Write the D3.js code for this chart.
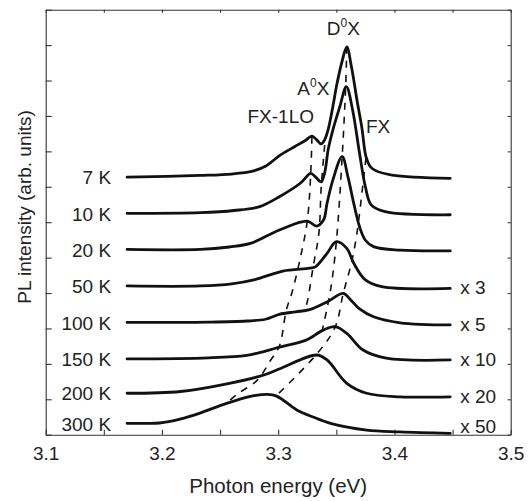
<!DOCTYPE html>
<html>
<head>
<meta charset="utf-8">
<script src="https://cdnjs.cloudflare.com/ajax/libs/d3/7.8.5/d3.min.js"></script>
<style>
  body { margin: 0; background: #fff; }
  svg { display: block; font-family: Arial, "Liberation Sans", sans-serif; }
</style>
</head>
<body>
<svg id="chart"></svg>
<script>
// temperatures (top to bottom) and the scale factors written at the right
let temps = ["7 K", "10 K", "20 K", "50 K", "100 K", "150 K", "200 K", "300 K"]
let factors = ["", "", "", "x 3", "x 5", "x 10", "x 20", "x 50"]

// spectra, [photon energy (eV), offset intensity (arb. units)]
let spec7 = [[3.170,7.27],[3.233,7.32],[3.260,7.36],[3.278,7.44],[3.289,7.58],[3.302,7.90],[3.314,8.13],[3.323,8.30],[3.329,8.43],
  [3.333,8.33],[3.337,8.21],[3.340,8.33],[3.343,8.62],[3.347,9.26],[3.3505,9.90],[3.355,10.55],[3.359,10.95],
  [3.363,10.39],[3.368,9.40],[3.372,8.66],[3.3755,7.85],[3.379,7.58],[3.383,7.47],[3.398,7.33],[3.448,7.24]]
let spec10 = [[3.170,6.25],[3.233,6.27],[3.262,6.33],[3.284,6.44],[3.301,6.72],[3.319,7.10],[3.328,7.38],[3.332,7.28],[3.337,7.14],
  [3.340,7.40],[3.343,8.05],[3.347,8.60],[3.353,9.26],[3.3586,9.83],[3.364,9.17],[3.370,7.94],[3.375,7.00],
  [3.380,6.49],[3.392,6.30],[3.448,6.21]]
let spec20 = [[3.170,5.23],[3.233,5.23],[3.258,5.30],[3.276,5.40],[3.301,5.78],[3.325,6.03],[3.333,5.89],[3.339,6.06],[3.342,6.53],
  [3.347,7.19],[3.355,7.85],[3.360,7.28],[3.365,6.53],[3.370,5.87],[3.375,5.49],[3.382,5.31],[3.405,5.21],[3.448,5.19]]
let spec50 = [[3.170,4.20],[3.233,4.20],[3.260,4.26],[3.280,4.38],[3.304,4.62],[3.327,4.70],[3.332,4.74],[3.342,5.12],[3.350,5.45],
  [3.359,5.26],[3.365,4.84],[3.375,4.37],[3.389,4.18],[3.448,4.13]]
let spec100 = [[3.170,3.17],[3.240,3.18],[3.273,3.21],[3.289,3.26],[3.301,3.40],[3.315,3.47],[3.327,3.53],[3.342,3.75],[3.356,3.99],[3.362,3.82],
  [3.370,3.55],[3.382,3.33],[3.405,3.16],[3.448,3.10]]
let spec150 = [[3.170,2.14],[3.240,2.17],[3.273,2.24],[3.289,2.36],[3.302,2.48],[3.324,2.67],[3.339,2.96],[3.349,3.05],[3.359,2.86],[3.373,2.39],
  [3.393,2.16],[3.448,2.11]]
let spec200 = [[3.170,1.17],[3.216,1.22],[3.258,1.45],[3.289,1.70],[3.302,1.87],[3.333,2.25],[3.342,2.11],[3.359,1.45],[3.376,1.17],
  [3.405,1.07],[3.448,1.07]]
let spec300 = [[3.170,0.32],[3.185,0.32],[3.198,0.33],[3.2155,0.44],[3.2327,0.61],[3.250,0.82],[3.2678,1.01],[3.2807,1.11],[3.2907,1.14],
  [3.2987,1.09],[3.316,0.70],[3.330,0.50],[3.345,0.32],[3.376,0.13],[3.405,0.08],[3.448,0.04]]
let spectra = [spec7, spec10, spec20, spec50, spec100, spec150, spec200, spec300]

// dashed guides following each emission line
let guideFX1LO = [[3.329,8.41],[3.328,7.39],[3.325,6.03],[3.319,4.99],[3.312,4.03],[3.307,3.52],[3.301,2.50],
  [3.293,2.08],[3.282,1.54],[3.265,1.15],[3.255,0.87]]
let guideA0X = [[3.340,8.18],[3.337,6.99],[3.335,5.69],[3.330,4.73],[3.325,3.75],[3.323,3.55]]
let guideD0X = [[3.359,10.95],[3.358,9.81],[3.355,7.84],[3.350,5.44],[3.345,4.08],[3.338,2.96]]
let guideFX = [[3.3755,7.81],[3.373,7.10],[3.3675,5.64],[3.363,4.85],[3.356,4.00],[3.349,3.04],[3.334,2.31],[3.299,1.12]]
let guides = [guideFX1LO, guideA0X, guideD0X, guideFX]

// peak names and where they are written (energy, intensity)
let peakNames = [["FX-1LO", "", ""], ["A", "0", "X"], ["D", "0", "X"], ["FX", "", ""]]
let peakSpots = [[3.3022, 8.81], [3.3302, 9.59], [3.356, 11.28], [3.3859, 8.52]]

let energyTicks = d3.range(0, 9).map(i => +(3.1 + i * 0.05).toFixed(2))
let intensityTicks = d3.range(0, 13)

let width = 531
let height = 501
let margin = { left: 45.7, top: 9.7, right: 20.3, bottom: 66.3 }
let innerW = width - margin.left - margin.right
let innerH = height - margin.top - margin.bottom
let ink = "#111"

let svg = d3.select("#chart").attr("width", width).attr("height", height)
let g = svg.append("g").attr("transform", `translate(${margin.left},${margin.top})`)

let x = d3.scaleLinear().domain([3.1, 3.5]).range([0, innerW])
let y = d3.scaleLinear().domain([0, 12]).range([innerH, 0])

let majorLabel = d => Math.abs(d * 10 - Math.round(d * 10)) < 1e-6 ? d3.format(".1f")(d) : ""

// axes, ticks pointing inward
let xBottom = g.append("g")
  .attr("transform", `translate(0,${innerH})`)
  .call(d3.axisBottom(x).tickValues(energyTicks).tickSizeInner(-5).tickSizeOuter(0).tickPadding(12).tickFormat(majorLabel))
xBottom.selectAll("text").attr("font-size", "19px").attr("fill", "#222")

g.append("g")
  .call(d3.axisTop(x).tickValues(energyTicks).tickSizeInner(-3).tickSizeOuter(0).tickFormat(""))

g.append("g")
  .call(d3.axisLeft(y).tickValues(intensityTicks).tickSizeInner(-6).tickSizeOuter(0).tickFormat(""))

g.append("g")
  .attr("transform", `translate(${innerW},0)`)
  .call(d3.axisRight(y).tickValues(intensityTicks).tickSizeInner(-3).tickSizeOuter(0).tickFormat(""))

g.selectAll(".domain, .tick line").attr("stroke", "#333").attr("stroke-width", 1.1)

// axis titles
svg.append("text")
  .attr("x", margin.left + innerW / 2)
  .attr("y", 493)
  .attr("text-anchor", "middle")
  .attr("font-size", "20.5px")
  .attr("fill", "#222")
  .text("Photon energy (eV)")

svg.append("text")
  .attr("transform", "translate(30.5,207) rotate(-90)")
  .attr("text-anchor", "middle")
  .attr("font-size", "19px")
  .attr("fill", "#222")
  .text("PL intensity (arb. units)")

// dashed guides
let guideLine = d3.line().x(d => x(d[0])).y(d => y(d[1])).curve(d3.curveCatmullRom)
g.selectAll(".guide")
  .data(guides)
  .enter()
  .append("path")
  .attr("class", "guide")
  .attr("d", guideLine)
  .attr("fill", "none")
  .attr("stroke", ink)
  .attr("stroke-width", 1.6)
  .attr("stroke-dasharray", "7,7")

// spectra
let specLine = d3.line().x(d => x(d[0])).y(d => y(d[1])).curve(d3.curveCatmullRom.alpha(0.5))
g.selectAll(".spectrum")
  .data(spectra)
  .enter()
  .append("path")
  .attr("class", "spectrum")
  .attr("d", specLine)
  .attr("fill", "none")
  .attr("stroke", ink)
  .attr("stroke-width", 2.8)
  .attr("stroke-linejoin", "round")
  .attr("stroke-linecap", "round")

// temperature labels at the left end of each curve
g.selectAll(".temp")
  .data(spectra)
  .enter()
  .append("text")
  .attr("class", "temp")
  .attr("x", d => x(d[0][0]) - 16)
  .attr("y", d => y(d[0][1]))
  .attr("dy", "0.38em")
  .attr("text-anchor", "end")
  .attr("font-size", "19px")
  .attr("fill", "#222")
  .text((d, i) => temps[i])

// scale factors at the right end
g.selectAll(".factor")
  .data(spectra)
  .enter()
  .append("text")
  .attr("class", "factor")
  .attr("x", d => x(d[d.length - 1][0]) + 10)
  .attr("y", d => y(Math.max(d[d.length - 1][1], 0.2)) - 1)
  .attr("dy", "0.36em")
  .attr("font-size", "19px")
  .attr("fill", "#222")
  .text((d, i) => factors[i])

// peak names
let names = g.selectAll(".peak")
  .data(peakNames)
  .enter()
  .append("text")
  .attr("class", "peak")
  .attr("x", (d, i) => x(peakSpots[i][0]))
  .attr("y", (d, i) => y(peakSpots[i][1]))
  .attr("text-anchor", "middle")
  .attr("font-size", "19px")
  .attr("fill", "#222")

names.append("tspan").text(d => d[0])
names.append("tspan")
  .attr("font-size", "12px")
  .attr("dy", "-8")
  .text(d => d[1])
names.append("tspan")
  .attr("dy", d => d[1] ? "8" : "0")
  .text(d => d[2])
</script>
</body>
</html>
